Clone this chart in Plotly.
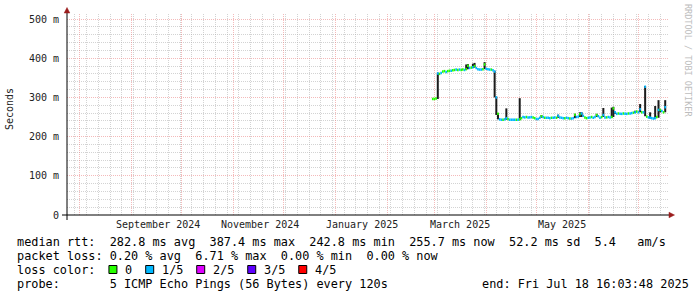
import plotly.graph_objects as go
import pandas as pd

# ---------------- data ----------------
end_time = "2025-07-18 16:03:48"
view_days = 359.4                      # width of the time window shown
first_sample = "2025-02-27 12:00"      # first consolidated (daily) sample

median_ms = [
    296, 296, 297, 361, 360, 362, 366, 367, 365, 367,
    368, 368, 369, 370, 371, 370, 371, 370, 371, 370,
    372, 381, 375, 376, 377, 380, 375, 372, 371, 371,
    372, 384, 373, 372, 371, 371, 369, 366, 300, 258,
    244, 243, 243, 244, 247, 245, 243, 243, 243, 243,
    243, 243, 244, 247, 250, 249, 250, 249, 249, 250,
    249, 247, 245, 245, 248, 252, 250, 248, 248, 248,
    247, 248, 248, 249, 248, 253, 249, 248, 247, 247,
    248, 247, 246, 246, 247, 256, 250, 251, 257, 259,
    253, 249, 247, 248, 249, 250, 248, 250, 255, 252,
    248, 250, 255, 249, 249, 250, 249, 250, 272, 262,
    258, 259, 258, 258, 259, 258, 258, 259, 259, 260,
    261, 262, 264, 262, 270, 262, 262, 327, 251, 249,
    248, 247, 246, 247, 250, 268, 268, 265, 262, 275,
]

# loss category of each sample: 0 -> "0", 1 -> "1/5"
loss_idx = [
    0, 0, 0, 1, 0, 1, 0, 0, 1, 0,
    0, 1, 0, 0, 1, 0, 1, 0, 0, 1,
    0, 0, 1, 0, 1, 0, 1, 1, 1, 1,
    0, 0, 1, 1, 1, 0, 1, 1, 1, 0,
    1, 1, 0, 1, 1, 0, 1, 1, 1, 1,
    0, 1, 0, 0, 1, 1, 0, 1, 1, 1,
    0, 0, 1, 1, 1, 0, 1, 0, 1, 1,
    1, 0, 1, 1, 0, 1, 1, 1, 1, 0,
    1, 1, 0, 1, 1, 0, 1, 1, 0, 1,
    1, 0, 0, 1, 1, 0, 1, 1, 0, 1,
    1, 0, 1, 1, 0, 1, 1, 0, 0, 1,
    1, 0, 1, 1, 0, 1, 1, 0, 1, 1,
    0, 1, 0, 1, 1, 0, 1, 1, 0, 1,
    1, 1, 1, 1, 0, 1, 0, 1, 0, 1,
]

# visible "smoke" (ping spread) per sample: day index, lowest and highest rtt
smoke_day = [3, 20, 21, 24, 25, 31, 37, 38, 39, 44, 52, 65, 75, 85, 88, 89,
             98, 102, 107, 108, 109, 121, 124, 127, 130, 133, 135, 136, 139]
smoke_lo_ms = [296, 370, 372, 375, 376, 372, 300, 255, 244, 243, 242, 248, 248, 247, 250, 250,
               250, 250, 248, 250, 258, 260, 262, 252, 246, 245, 248, 262, 262]
smoke_hi_ms = [363, 384, 385, 386, 388, 390, 368, 302, 260, 272, 298, 255, 256, 258, 262, 262,
               258, 273, 274, 276, 264, 266, 283, 329, 262, 278, 293, 270, 293]

loss_colors = ["#26ff00", "#00b8ff", "#dd00ff", "#5e00ff", "#ff0000"]
loss_labels = ["0", "1/5", "2/5", "3/5", "4/5"]

month_labels = ["September 2024", "November 2024", "January 2025", "March 2025", "May 2025"]
month_label_months = ["2024-09-01", "2024-11-01", "2025-01-01", "2025-03-01", "2025-05-01"]

y_ticks = [0, 100, 200, 300, 400, 500]
y_ticktext = ["0", "100 m", "200 m", "300 m", "400 m", "500 m"]

stats_rtt = "median rtt:  282.8 ms avg  387.4 ms max  242.8 ms min  255.7 ms now  52.2 ms sd  5.4   am/s"
stats_loss = "packet loss: 0.20 % avg  6.71 % max  0.00 % min  0.00 % now"
loss_title = "loss color:"
probe_text = "probe:       5 ICMP Echo Pings (56 Bytes) every 120s"
end_text = "end: Fri Jul 18 16:03:48 2025"
watermark = "RRDTOOL / TOBI OETIKER"
y_title = "Seconds"

# ---------------- layout geometry ----------------
W, H = 697, 297
PL, PR, PT, PB = 67, 668, 14, 215          # plot area edges (px)
Y_TOP = 500 * (PB - PT) / (PB - 19)        # 500 m gridline at pixel row 19
MONO = "DejaVu Sans Mono"
GRID = "rgba(175,175,175,0.55)"
MGRID = "rgba(235,130,130,0.55)"
ARROW = "#9b1c1c"
CH = 7.13                                   # legend char advance (px)


def fx(px):
    return (px - PL) / (PR - PL)


def fy(py):
    return (PB - py) / (PB - PT)


def nb(s):
    return s.replace(" ", "\u00a0")


end_ts = pd.Timestamp(end_time)
start_ts = end_ts - pd.Timedelta(days=view_days)
day0 = pd.Timestamp(first_sample)
one_day = pd.Timedelta(days=1)

fig = go.Figure()

# smoke
sx, sy = [], []
for d, lo, hi in zip(smoke_day, smoke_lo_ms, smoke_hi_ms):
    t = day0 + d * one_day + one_day / 2
    sx += [t, t, None]
    sy += [lo, hi, None]
fig.add_trace(go.Scatter(x=sx, y=sy, mode="lines", line=dict(color="#1c1c1c", width=2),
                         hoverinfo="skip", showlegend=False))

# median rtt coloured by loss
for lvl in sorted(set(loss_idx)):
    mx, my = [], []
    for i, (v, l) in enumerate(zip(median_ms, loss_idx)):
        if l != lvl:
            continue
        t0 = day0 + i * one_day
        mx += [t0, t0 + one_day, None]
        my += [v, v, None]
    fig.add_trace(go.Scatter(x=mx, y=my, mode="lines",
                             line=dict(color=loss_colors[lvl], width=2.5),
                             hoverinfo="skip", showlegend=False))

month_starts = pd.date_range(start_ts.normalize(), end_ts, freq="MS")
week_starts = pd.date_range(start_ts.normalize(), end_ts, freq="W-MON")
y_minor = [v for v in range(20, 520, 20) if v % 100 != 0]

fig.update_layout(
    width=W, height=H,
    margin=dict(l=PL, r=W - PR, t=PT, b=H - PB, pad=0),
    paper_bgcolor="white", plot_bgcolor="white", showlegend=False,
    xaxis=dict(type="date", range=[start_ts, end_ts], tickvals=list(month_starts),
               ticktext=[""] * len(month_starts), showticklabels=False, ticks="",
               showgrid=True, gridcolor=MGRID, griddash="1px,1px", gridwidth=1,
               zeroline=False, showline=False, fixedrange=True,
               minor=dict(tickvals=list(week_starts), showgrid=True, gridcolor=GRID,
                          griddash="1px,1px", gridwidth=1, ticks="")),
    yaxis=dict(range=[0, Y_TOP], tickvals=y_ticks, ticktext=y_ticktext, ticks="",
               showgrid=True, gridcolor=MGRID, griddash="1px,1px", gridwidth=1,
               zeroline=False, showline=False, ticklabelstandoff=7,
               tickfont=dict(family=MONO, size=10, color="#222222"),
               minor=dict(tickvals=y_minor, showgrid=True, gridcolor=GRID,
                          griddash="1px,1px", gridwidth=1, ticks="")),
)

shapes = []
# axes lines
shapes.append(dict(type="line", xref="paper", yref="paper", x0=fx(62), x1=fx(670),
                   y0=fy(215), y1=fy(215), line=dict(color="black", width=1)))
shapes.append(dict(type="line", xref="paper", yref="paper", x0=fx(67), x1=fx(67),
                   y0=fy(220), y1=fy(12), line=dict(color="black", width=1)))
# arrows
shapes.append(dict(type="path", xref="paper", yref="paper",
                   path=f"M {fx(669)} {fy(212.2)} L {fx(674.5)} {fy(215)} L {fx(669)} {fy(217.8)} Z",
                   fillcolor=ARROW, line=dict(color=ARROW, width=0.5)))
shapes.append(dict(type="path", xref="paper", yref="paper",
                   path=f"M {fx(64.2)} {fy(13)} L {fx(67)} {fy(7.5)} L {fx(69.8)} {fy(13)} Z",
                   fillcolor=ARROW, line=dict(color=ARROW, width=0.5)))

annotations = []


def txt(s, px, py, size=11.85, color="#000000", anchor="left", angle=0):
    annotations.append(dict(text=nb(s), x=fx(px), y=fy(py), xref="paper", yref="paper",
                            showarrow=False, xanchor=anchor, yanchor="middle",
                            borderpad=0, textangle=angle,
                            font=dict(family=MONO, size=size, color=color)))


# month labels (centred mid-month)
for lab, m in zip(month_labels, month_label_months):
    t = pd.Timestamp(m) + pd.Timedelta(days=15.5)
    annotations.append(dict(text=nb(lab), x=t, y=fy(224.5), xref="x", yref="paper",
                            showarrow=False, xanchor="center", yanchor="middle", borderpad=0,
                            font=dict(family=MONO, size=10, color="#222222")))

txt(y_title, 10, 109, size=10, color="#222222", anchor="center", angle=-90)
txt(watermark, 688.5, 60.5, size=8.5, color="#bdbdbd", anchor="center", angle=90)

LX = 16
txt(stats_rtt, LX, 241.5)
txt(stats_loss, LX, 255.5)
txt(loss_title, LX, 269.5)
txt(probe_text, LX, 283.5)
txt(end_text, 481, 283.5)

# loss colour legend: box + label, items separated by ~2 chars
x = LX + len(loss_title) * CH + 14
for col, lab in zip(loss_colors, loss_labels):
    shapes.append(dict(type="rect", xref="paper", yref="paper",
                       x0=fx(x + 0.5), x1=fx(x + 8.5), y0=fy(265.5), y1=fy(273.5),
                       fillcolor=col, line=dict(color="black", width=1)))
    txt(lab, x + 8.5 + CH, 269.5)
    x = x + 8.5 + CH + len(lab) * CH + 14

fig.update_layout(shapes=shapes, annotations=annotations)
fig.write_html("out.html")
